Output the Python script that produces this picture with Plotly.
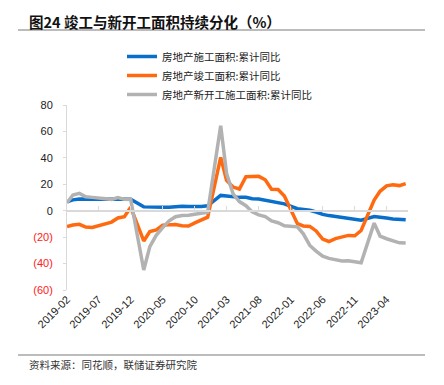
import plotly.graph_objects as go

# Months: Jan-Feb combined data, so no January points
months = []
for y in range(2019, 2024):
    for m in range(2, 13):
        if y == 2023 and m > 7:
            break
        months.append(f"{y}-{m:02d}-01")

construction = [6.8, 8.2, 8.8, 8.8, 8.8, 9.0, 8.8, 8.7, 9.0, 8.7, 8.7,
                2.9, 2.6, 2.5, 2.6, 2.6, 3.1, 3.3, 3.1, 3.0, 3.2, 3.7,
                11.6, 11.2, 10.5, 10.1, 10.2, 9.0, 8.9, 7.9, 7.1, 6.1, 5.2,
                1.5, 1.0, 0.3, -1.0, -2.8, -3.7, -4.5, -5.3, -5.7, -6.5, -7.2,
                -4.4, -5.2, -5.6, -6.2, -6.6, -6.8]
completion = [-11.9, -10.8, -10.3, -12.4, -12.7, -11.3, -10.0, -8.6, -5.5, -4.5, 2.6,
              -22.9, -15.8, -14.5, -10.9, -10.5, -10.5, -11.3, -11.6, -9.2, -7.3, -4.9,
              40.4, 22.9, 17.9, 16.4, 25.7, 25.7, 26.0, 23.4, 16.3, 16.0, 11.2,
              -9.8, -11.5, -11.9, -15.3, -21.5, -23.3, -21.1, -19.9, -18.7, -19.0, -15.0,
              8.0, 14.7, 18.8, 19.6, 19.0, 20.5]
new_start = [6.0, 11.9, 13.1, 10.5, 10.1, 9.5, 8.9, 8.6, 10.0, 8.6, 8.5,
             -44.9, -27.2, -18.4, -12.8, -7.6, -4.5, -3.6, -3.4, -2.6, -2.0, -1.2,
             64.3, 28.2, 12.8, 6.9, 3.8, -0.9, -3.2, -4.5, -7.7, -9.1, -11.4,
             -12.2, -17.5, -26.3, -30.6, -34.4, -36.1, -37.2, -38.0, -37.8, -38.9, -39.4,
             -9.4, -19.2, -21.2, -22.6, -24.3, -24.5]

series_names = ["房地产施工面积:累计同比", "房地产竣工面积:累计同比", "房地产新开工施工面积:累计同比"]
series_colors = ["#0A6FCB", "#FF6A10", "#B2B2B2"]

x_tick_labels = ["2019-02", "2019-07", "2019-12", "2020-05", "2020-10", "2021-03",
                 "2021-08", "2022-01", "2022-06", "2022-11", "2023-04"]
y_tick_vals = [80, 60, 40, 20, 0, -20, -40, -60]

cjk = "Noto Sans CJK SC"
latin = "Liberation Sans, Arial, sans-serif"

W, H = 444, 385
pl, pr, pt, pb = 67, 36, 105, 95
pw, ph = W - pl - pr, H - pt - pb
def px(xp):
    return (xp - pl) / pw
def py(yp):
    return (H - pb - yp) / ph

fig = go.Figure()
for name, vals, col in zip(series_names, [construction, completion, new_start], series_colors):
    fig.add_trace(go.Scatter(x=months, y=vals, name=name, mode="lines",
                             line=dict(color=col, width=3.5)))

def ytext(v):
    if v < 0:
        return f'<span style="color:#FF2020">({-v})</span>'
    return str(v)

y_range = [-60, 80]
fig.update_layout(
    width=W, height=H,
    margin=dict(l=pl, r=pr, t=pt, b=pb, autoexpand=False),
    paper_bgcolor="white", plot_bgcolor="white",
    showlegend=True,
    legend=dict(x=px(122), y=py(42), xanchor="left", yanchor="top",
                font=dict(family=cjk, size=10.5, color="#222"), tracegroupgap=0,
                bgcolor="rgba(0,0,0,0)", traceorder="normal"),
    xaxis=dict(type="date", range=["2019-02-01", "2023-07-12"],
               tickvals=[f"{t}-01" for t in x_tick_labels], ticktext=x_tick_labels,
               tickangle=-45, tickfont=dict(family=latin, size=11, color="#222"),
               showgrid=False, zeroline=False, showline=False, ticks=""),
    xaxis2=dict(type="date", overlaying="x", matches="x", anchor="free",
                position=(0 - y_range[0]) / (y_range[1] - y_range[0]),
                tickvals=[f"{t}-01" for t in x_tick_labels], showticklabels=False,
                showgrid=False, zeroline=False, showline=True, linecolor="#D9D9D9", linewidth=1.5,
                ticks="inside", ticklen=4, tickcolor="#D9D9D9"),
    yaxis=dict(range=y_range, tickvals=y_tick_vals, ticktext=[ytext(v) for v in y_tick_vals],
               tickfont=dict(family=latin, size=11, color="#222"), ticklabelstandoff=8,
               showgrid=False, zeroline=False, showline=True, linecolor="#D9D9D9", linewidth=1,
               ticks="outside", ticklen=3, tickcolor="#D9D9D9"),
)
# invisible trace to activate xaxis2 (axis line at y=0)
fig.add_trace(go.Scatter(x=[months[0]], y=[0], xaxis="x2", mode="markers",
                         marker=dict(opacity=0), showlegend=False, hoverinfo="skip"))

fig.add_annotation(text="<b>图24 竣工与新开工面积持续分化（%）</b>", xref="paper", yref="paper",
                   x=px(27), y=py(22), xanchor="left", yanchor="middle", showarrow=False,
                   font=dict(family=cjk, size=14.5, color="#111"))
fig.add_annotation(text="资料来源：同花顺，联储证券研究院", xref="paper", yref="paper",
                   x=px(27), y=py(364), xanchor="left", yanchor="middle", showarrow=False,
                   font=dict(family=cjk, size=10.5, color="#333"))
fig.add_shape(type="line", xref="paper", yref="paper", x0=px(18), x1=px(425), y0=py(30), y1=py(30),
              line=dict(color="#A6A6A6", width=1.5))
fig.add_shape(type="line", xref="paper", yref="paper", x0=px(18), x1=px(425), y0=py(355), y1=py(355),
              line=dict(color="#A6A6A6", width=1.5))

fig.write_html("out.html", config={"displayModeBar": False},
               post_script="document.body.style.margin='0';")
